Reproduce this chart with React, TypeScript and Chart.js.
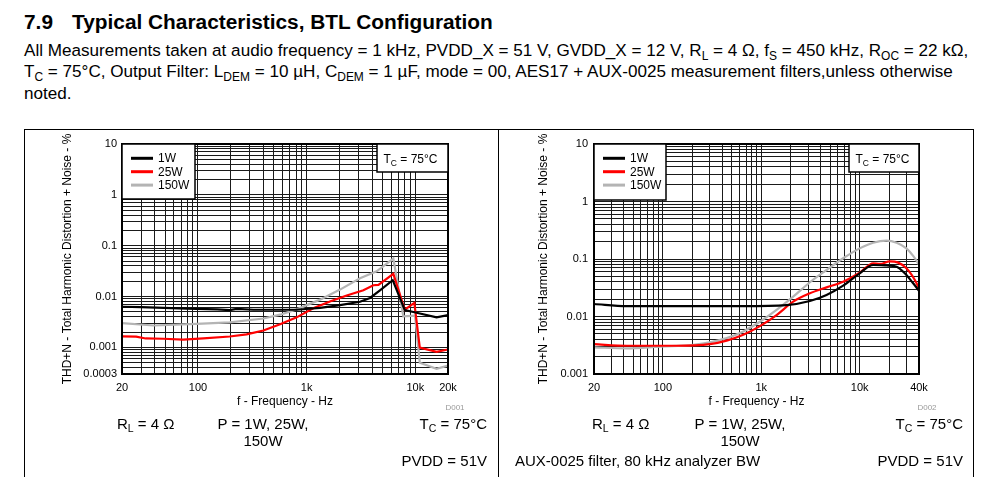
import React, { useEffect, useRef } from "react";
import { Chart, registerables } from "chart.js";
Chart.register(...registerables);

const FONT = "'Liberation Sans', Arial, Helvetica, sans-serif";
Chart.defaults.font.family = FONT;

// ---------- series ----------
const seriesNames = ["1W", "25W", "150W"];
const seriesColors = ["#000000", "#ff0000", "#b4b4b4"];

// Left plot (AES17 + AUX-0025), 20 Hz .. 20 kHz
const leftFreq1W = [20, 30, 79, 150, 196, 227, 323, 809, 1330, 2030, 3100, 3830, 4730, 6200, 8000, 10300, 15700, 20000];
const leftThd1W = [0.0063, 0.0062, 0.0058, 0.0056, 0.0054, 0.0057, 0.0055, 0.0055, 0.006, 0.0068, 0.0079, 0.0094, 0.0133, 0.021, 0.0054, 0.0048, 0.0039, 0.0043];
const leftFreq25W = [20, 27, 33, 48, 73, 112, 196, 280, 400, 570, 810, 1150, 1640, 2340, 3330, 4110, 4580, 6280, 8000, 9800, 11000, 15700, 20000];
const leftThd25W = [0.00165, 0.00163, 0.0015, 0.00148, 0.00142, 0.0015, 0.00164, 0.0018, 0.00215, 0.00286, 0.0039, 0.0059, 0.008, 0.0105, 0.0133, 0.0167, 0.017, 0.028, 0.0055, 0.0075, 0.00099, 0.00082, 0.00091];
const leftFreq150W = [20, 39, 97, 196, 400, 570, 810, 1330, 2030, 3100, 4410, 6280, 7760, 9940, 11000, 15700, 20000];
const leftThd150W = [0.003, 0.0027, 0.0029, 0.0031, 0.0037, 0.0044, 0.0056, 0.0087, 0.0137, 0.0229, 0.0313, 0.056, 0.0041, 0.0042, 0.0005, 0.00038, 0.00044];

// Right plot (AUX-0025, 80 kHz BW), 20 Hz .. 40 kHz
const rightFreq1W = [20, 43, 138, 656, 1800, 3120, 4600, 6790, 10000, 13700, 18700, 23700, 28700, 34900, 40000];
const rightThd1W = [0.0165, 0.0152, 0.0152, 0.0152, 0.0158, 0.0186, 0.0237, 0.0344, 0.0564, 0.0787, 0.077, 0.0735, 0.0564, 0.0378, 0.028];
const rightFreq25W = [20, 43, 138, 300, 445, 656, 968, 1430, 2110, 3120, 4600, 6790, 10000, 13700, 16000, 20200, 24600, 29800, 36300, 40000];
const rightThd25W = [0.0033, 0.0031, 0.0031, 0.0033, 0.0038, 0.0048, 0.0068, 0.0106, 0.0181, 0.0253, 0.0321, 0.0404, 0.0578, 0.084, 0.082, 0.091, 0.0865, 0.069, 0.0432, 0.031];
const rightFreq150W = [20, 43, 94, 204, 445, 656, 968, 1430, 2110, 3120, 4600, 6790, 10000, 13700, 18700, 23700, 29800, 34900, 40000];
const rightThd150W = [0.0029, 0.0028, 0.003, 0.0032, 0.0042, 0.0055, 0.0081, 0.013, 0.0221, 0.0394, 0.0644, 0.103, 0.153, 0.192, 0.209, 0.192, 0.153, 0.113, 0.08];

// ---------- tick labels ----------
const leftXLabelValues = [20, 100, 1000, 10000, 20000];
const leftXLabelTexts = ["20", "100", "1k", "10k", "20k"];
const rightXLabelValues = [20, 100, 1000, 10000, 40000];
const rightXLabelTexts = ["20", "100", "1k", "10k", "40k"];
const leftYLabelValues = [10, 1, 0.1, 0.01, 0.001, 0.0003];
const leftYLabelTexts = ["10", "1", "0.1", "0.01", "0.001", "0.0003"];
const rightYLabelValues = [10, 1, 0.1, 0.01, 0.001];
const rightYLabelTexts = ["10", "1", "0.1", "0.01", "0.001"];

const xTitle = "f - Frequency - Hz";
const yTitle = "THD+N - Total Harmonic Distortion + Noise - %";

function logGrid(min: number, max: number): number[] {
  const out: number[] = [];
  const e0 = Math.floor(Math.log10(min));
  const e1 = Math.ceil(Math.log10(max));
  for (let e = e0; e <= e1; e++) {
    for (let m = 1; m <= 9; m++) {
      const v = parseFloat((m * Math.pow(10, e)).toPrecision(6));
      if (v >= min * (1 - 1e-9) && v <= max * (1 + 1e-9)) out.push(v);
    }
  }
  return out;
}

function labelOf(values: number[], texts: string[]) {
  return (v: any) => {
    const n = Number(v);
    for (let i = 0; i < values.length; i++) {
      if (Math.abs(n - values[i]) / values[i] < 1e-6) return texts[i];
    }
    return "";
  };
}

type PlotSpec = {
  freqs: number[][];
  thds: number[][];
  xMin: number; xMax: number; yMin: number; yMax: number;
  xLabels: [number[], string[]];
  yLabels: [number[], string[]];
  yWidth: number;
  padRight: number;
  yTickPad: number;
  smooth: boolean;
  legendW: number; legendH: number; tcW: number;
};

function overlayPlugin(p: PlotSpec) {
  return {
    id: "overlay",
    afterDatasetsDraw(chart: any) {
      const { ctx, chartArea: ca } = chart;
      ctx.save();
      ctx.strokeStyle = "#000";
      ctx.lineWidth = 2;
      ctx.strokeRect(ca.left, ca.top, ca.right - ca.left, ca.bottom - ca.top);
      // legend box
      const lx = ca.left, ly = ca.top;
      ctx.fillStyle = "#fff";
      ctx.fillRect(lx, ly, p.legendW, p.legendH);
      ctx.lineWidth = 1.5;
      ctx.strokeRect(lx, ly, p.legendW, p.legendH);
      ctx.font = `12px ${FONT}`;
      ctx.textBaseline = "middle";
      ctx.textAlign = "left";
      chart.data.datasets.forEach((ds: any, i: number) => {
        const yy = ly + 14.3 + i * 13.4;
        ctx.strokeStyle = ds.borderColor;
        ctx.lineWidth = 3;
        ctx.beginPath();
        ctx.moveTo(lx + 9, yy);
        ctx.lineTo(lx + 31, yy);
        ctx.stroke();
        ctx.fillStyle = "#000";
        ctx.fillText(ds.label, lx + 36, yy + 0.5);
      });
      // Tc box
      const bx = ca.right - p.tcW, by = ca.top, bh = 28;
      ctx.fillStyle = "#fff";
      ctx.fillRect(bx, by, p.tcW, bh);
      ctx.strokeStyle = "#000";
      ctx.lineWidth = 1.5;
      ctx.strokeRect(bx, by, p.tcW, bh);
      ctx.fillStyle = "#000";
      ctx.textBaseline = "alphabetic";
      let tx = bx + 6.5;
      const base = by + 18.5;
      ctx.font = `12px ${FONT}`;
      ctx.fillText("T", tx, base);
      tx += ctx.measureText("T").width;
      ctx.font = `8.5px ${FONT}`;
      ctx.fillText("C", tx, base + 3);
      tx += ctx.measureText("C").width;
      ctx.font = `12px ${FONT}`;
      ctx.fillText(" = 75°C", tx, base);
      ctx.restore();
    },
  };
}

function makeConfig(p: PlotSpec): any {
  const xGrid = logGrid(p.xMin, p.xMax);
  const yGrid = logGrid(p.yMin, p.yMax);
  return {
    type: "line",
    data: {
      datasets: p.freqs.map((f, i) => ({
        label: seriesNames[i],
        data: f.map((x, j) => ({ x, y: p.thds[i][j] })),
        borderColor: seriesColors[i],
        backgroundColor: seriesColors[i],
        borderWidth: 2.2,
        pointRadius: 0,
        fill: false,
        tension: 0,
        cubicInterpolationMode: p.smooth ? "monotone" : "default",
      })),
    },
    options: {
      animation: false,
      responsive: true,
      maintainAspectRatio: false,
      layout: { padding: { left: 0, top: 14, right: p.padRight, bottom: 0 } },
      plugins: { legend: { display: false }, tooltip: { enabled: false } },
      scales: {
        x: {
          type: "logarithmic",
          min: p.xMin,
          max: p.xMax,
          afterBuildTicks: (s: any) => { s.ticks = xGrid.map((v) => ({ value: v })); },
          afterFit: (s: any) => { s.height = 46; },
          ticks: {
            autoSkip: false, maxRotation: 0, minRotation: 0, padding: 7,
            color: "#000", font: { size: 11, family: FONT },
            callback: labelOf(p.xLabels[0], p.xLabels[1]),
          },
          grid: { color: "#1a1a1a", lineWidth: 1, drawTicks: false },
          border: { display: false },
          title: { display: true, text: xTitle, color: "#000", font: { size: 12, family: FONT }, padding: { top: 0, bottom: 11 } },
        },
        y: {
          type: "logarithmic",
          min: p.yMin,
          max: p.yMax,
          afterBuildTicks: (s: any) => { s.ticks = yGrid.map((v) => ({ value: v })); },
          afterFit: (s: any) => { s.width = p.yWidth; },
          ticks: {
            autoSkip: false, padding: p.yTickPad,
            color: "#000", font: { size: 11, family: FONT },
            callback: labelOf(p.yLabels[0], p.yLabels[1]),
          },
          grid: { color: "#1a1a1a", lineWidth: 1, drawTicks: false },
          border: { display: false },
          title: { display: true, text: yTitle, color: "#000", font: { size: 12, family: FONT }, padding: { top: 36, bottom: 0 } },
        },
      },
    },
    plugins: [overlayPlugin(p)],
  };
}

const leftSpec: PlotSpec = {
  freqs: [leftFreq1W, leftFreq25W, leftFreq150W],
  thds: [leftThd1W, leftThd25W, leftThd150W],
  xMin: 20, xMax: 20000, yMin: 0.0003, yMax: 10,
  xLabels: [leftXLabelValues, leftXLabelTexts],
  yLabels: [leftYLabelValues, leftYLabelTexts],
  yWidth: 98, padRight: 50, yTickPad: 5, smooth: false,
  legendW: 73, legendH: 55, tcW: 71,
};
const rightSpec: PlotSpec = {
  freqs: [rightFreq1W, rightFreq25W, rightFreq150W],
  thds: [rightThd1W, rightThd25W, rightThd150W],
  xMin: 20, xMax: 40000, yMin: 0.001, yMax: 10,
  xLabels: [rightXLabelValues, rightXLabelTexts],
  yLabels: [rightYLabelValues, rightYLabelTexts],
  yWidth: 94, padRight: 53, yTickPad: 6, smooth: true,
  legendW: 72, legendH: 56, tcW: 70,
};

function Plot({ spec, left, top, width, height }: { spec: PlotSpec; left: number; top: number; width: number; height: number }) {
  const ref = useRef<HTMLCanvasElement | null>(null);
  useEffect(() => {
    if (!ref.current) return;
    const chart = new Chart(ref.current, makeConfig(spec));
    return () => chart.destroy();
  }, [spec]);
  return (
    <div style={{ position: "absolute", left, top, width, height }}>
      <canvas ref={ref} />
    </div>
  );
}

const Sub = ({ children }: { children: any }) => (
  <sub style={{ fontSize: "0.7em", verticalAlign: "-0.3em", lineHeight: 0 }}>{children}</sub>
);

const abs = (s: any) => ({ position: "absolute" as const, whiteSpace: "nowrap" as const, ...s });

function Notes({ rl, pCenter, rightEnd, aux }: { rl: number; pCenter: number; rightEnd: number; aux?: string }) {
  return (
    <>
      <div style={abs({ left: rl, top: 415.5, fontSize: 15, lineHeight: "15px" })}>
        R<Sub>L</Sub> = 4 Ω
      </div>
      <div style={abs({ left: pCenter, top: 414.5, fontSize: 15, lineHeight: "17px", textAlign: "center", transform: "translateX(-50%)" })}>
        P = 1W, 25W,<br />150W
      </div>
      <div style={abs({ right: 1001 - rightEnd, top: 415.5, fontSize: 15, lineHeight: "15px" })}>
        T<Sub>C</Sub> = 75°C
      </div>
      {aux ? <div style={abs({ left: 515, top: 452.5, fontSize: 15, lineHeight: "15px" })}>{aux}</div> : null}
      <div style={abs({ right: 1001 - rightEnd, top: 452.5, fontSize: 15, lineHeight: "15px" })}>PVDD = 51V</div>
    </>
  );
}

export default function App() {
  return (
    <div style={{ position: "absolute", left: 0, top: 0, width: 1001, height: 477, overflow: "hidden", background: "#fff", color: "#000", fontFamily: FONT }}>
      <div style={abs({ left: 24, top: 12, fontSize: 20.85, lineHeight: "20.85px", fontWeight: "bold" })}>7.9</div>
      <div style={abs({ left: 72, top: 12, fontSize: 20.85, lineHeight: "20.85px", fontWeight: "bold" })}>Typical Characteristics, BTL Configuration</div>
      <div style={abs({ left: 24, top: 39.5, fontSize: 17.1, lineHeight: "21.5px" })}>
        All Measurements taken at audio frequency = 1 kHz, PVDD_X = 51 V, GVDD_X = 12 V, R<Sub>L</Sub> = 4 Ω, f<Sub>S</Sub> = 450 kHz, R<Sub>OC</Sub> = 22 kΩ,
        <br />
        T<Sub>C</Sub> = 75°C, Output Filter: L<Sub>DEM</Sub> = 10 µH, C<Sub>DEM</Sub> = 1 µF, mode = 00, AES17 + AUX-0025 measurement filters,unless otherwise
        <br />
        noted.
      </div>

      <Plot spec={leftSpec} left={24} top={130} width={474} height={290} />
      <Plot spec={rightSpec} left={500} top={130} width={472} height={290} />

      <div style={{ position: "absolute", left: 24, top: 129, width: 950, height: 1, background: "#000" }} />
      <div style={{ position: "absolute", left: 24, top: 129, width: 1, height: 348, background: "#000" }} />
      <div style={{ position: "absolute", left: 498, top: 129, width: 1, height: 348, background: "#000" }} />
      <div style={{ position: "absolute", left: 973, top: 129, width: 1, height: 348, background: "#000" }} />

      <div style={abs({ left: 455, top: 404, fontSize: 8, lineHeight: "8px", color: "#9a9a9a", transform: "translateX(-50%)" })}>D001</div>
      <div style={abs({ left: 927, top: 404, fontSize: 8, lineHeight: "8px", color: "#9a9a9a", transform: "translateX(-50%)" })}>D002</div>

      <Notes rl={117} pCenter={263} rightEnd={487} />
      <Notes rl={592} pCenter={740} rightEnd={963} aux="AUX-0025 filter, 80 kHz analyzer BW" />
    </div>
  );
}
